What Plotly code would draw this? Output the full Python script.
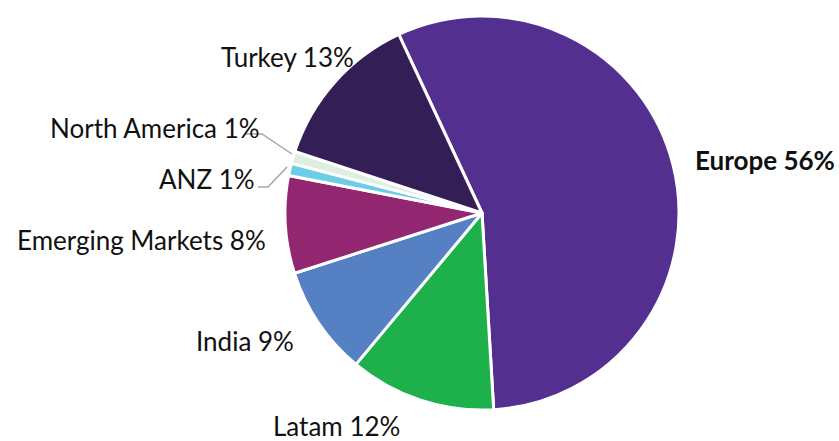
import plotly.graph_objects as go

W, H = 839, 441

regions = ["Europe", "Latam", "India", "Emerging Markets", "ANZ", "North America", "Turkey"]
shares = [56, 12, 9, 8, 1, 1, 13]
colors = ["#532F8F", "#1DB04B", "#5580C4", "#922671", "#6DCDE6", "#DDEEE3", "#331E55"]
label_text = ["Europe 56%", "Latam 12%", "India 9%", "Emerging Markets 8%", "ANZ 1%", "North America 1%", "Turkey 13%"]

fig = go.Figure(go.Pie(
    labels=regions, values=shares, sort=False, direction="clockwise", rotation=-25,
    marker=dict(colors=colors, line=dict(color="white", width=3)),
    textinfo="none", hoverinfo="label+percent", showlegend=False,
    domain=dict(x=[285 / W, 679 / W], y=[1 - 410 / H, 1 - 16 / H]),
))

def px(x, y):
    return x / W, 1 - y / H

# label anchors (pixel), alignment
label_pos = {
    "Europe 56%": (693, 160, "left"),
    "Latam 12%": (402, 426, "right"),
    "India 9%": (296, 341, "right"),
    "Emerging Markets 8%": (268, 240, "right"),
    "ANZ 1%": (257, 179, "right"),
    "North America 1%": (262, 128, "right"),
    "Turkey 13%": (356, 57, "right"),
}
font_fam = "Lato, 'Open Sans', sans-serif"
for t in label_text:
    x, y, a = label_pos[t]
    ax, ay = px(x, y)
    fig.add_annotation(
        x=ax, y=ay, xref="paper", yref="paper", text=("<b>%s</b>" % t) if t.startswith("Europe") else t,
        showarrow=False, xanchor=a, yanchor="middle",
        font=dict(family=font_fam, size=26, color="#111111"),
    )

# leader lines for small slices
for pts in ([(245, 134), (262, 134), (292, 154)], [(258, 187), (268, 187), (287, 167)]):
    path = "M " + " L ".join("%f,%f" % px(*p) for p in pts)
    fig.add_shape(type="path", path=path, xref="paper", yref="paper",
                  line=dict(color="#A6A6A6", width=1.5))

fig.update_layout(width=W, height=H, margin=dict(l=0, r=0, t=0, b=0),
                  paper_bgcolor="white", plot_bgcolor="white")
fig.write_html("out.html", config={"displayModeBar": False},
               post_script="document.body.style.margin='0';document.body.style.overflow='hidden';")
